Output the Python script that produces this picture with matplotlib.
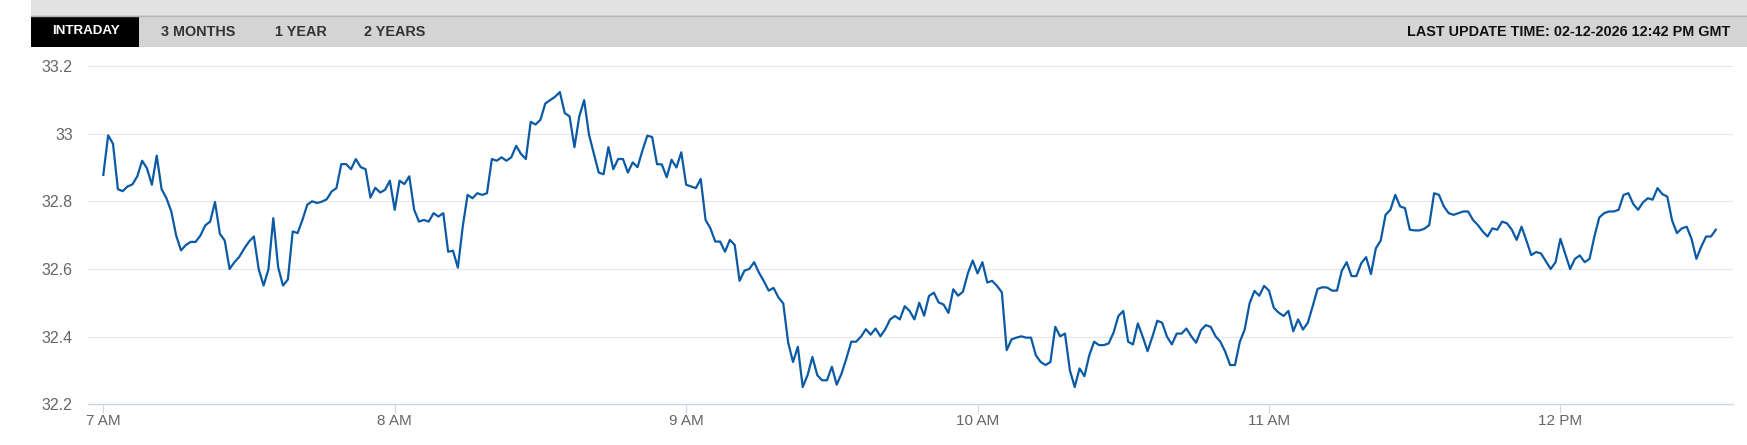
import numpy as np
import matplotlib
matplotlib.use("Agg")
import matplotlib.pyplot as plt
from matplotlib.patches import Rectangle

# per-minute prices from 7:00 onwards
price = [
    32.878, 32.995, 32.970, 32.836, 32.830, 32.844, 32.850, 32.874, 32.920, 32.897,
    32.849, 32.935, 32.836, 32.809, 32.770, 32.699, 32.655, 32.671, 32.680, 32.680,
    32.699, 32.729, 32.740, 32.798, 32.704, 32.684, 32.600, 32.620, 32.636, 32.660,
    32.681, 32.696, 32.599, 32.551, 32.599, 32.750, 32.605, 32.551, 32.569, 32.711,
    32.706, 32.745, 32.790, 32.800, 32.795, 32.799, 32.806, 32.829, 32.839, 32.910,
    32.910, 32.895, 32.925, 32.901, 32.895, 32.811, 32.840, 32.826, 32.834, 32.861,
    32.775, 32.861, 32.851, 32.874, 32.775, 32.740, 32.745, 32.740, 32.765, 32.755,
    32.765, 32.651, 32.654, 32.604, 32.725, 32.819, 32.809, 32.824, 32.819, 32.824,
    32.925, 32.920, 32.930, 32.920, 32.930, 32.964, 32.940, 32.925, 33.035, 33.027,
    33.041, 33.089, 33.099, 33.109, 33.123, 33.061, 33.051, 32.960, 33.051, 33.099,
    32.997, 32.941, 32.885, 32.880, 32.960, 32.895, 32.925, 32.925, 32.885, 32.915,
    32.901, 32.950, 32.994, 32.990, 32.910, 32.909, 32.871, 32.923, 32.900, 32.945,
    32.849, 32.844, 32.839, 32.866, 32.745, 32.720, 32.681, 32.681, 32.651, 32.686,
    32.671, 32.565, 32.595, 32.600, 32.620, 32.589, 32.564, 32.536, 32.544, 32.516,
    32.498, 32.383, 32.325, 32.370, 32.251, 32.286, 32.340, 32.286, 32.271, 32.271,
    32.311, 32.258, 32.291, 32.336, 32.385, 32.385, 32.400, 32.422, 32.406, 32.424,
    32.401, 32.422, 32.451, 32.461, 32.451, 32.490, 32.476, 32.451, 32.500, 32.462,
    32.520, 32.530, 32.501, 32.495, 32.470, 32.540, 32.521, 32.533, 32.587, 32.625,
    32.587, 32.620, 32.560, 32.565, 32.550, 32.531, 32.360, 32.392, 32.397, 32.401,
    32.397, 32.397, 32.345, 32.325, 32.316, 32.325, 32.429, 32.401, 32.409, 32.301,
    32.251, 32.306, 32.283, 32.345, 32.385, 32.375, 32.375, 32.380, 32.412, 32.461,
    32.476, 32.385, 32.377, 32.439, 32.400, 32.357, 32.400, 32.447, 32.441, 32.400,
    32.377, 32.409, 32.409, 32.424, 32.401, 32.382, 32.419, 32.434, 32.429, 32.401,
    32.385, 32.355, 32.316, 32.316, 32.385, 32.421, 32.498, 32.535, 32.521, 32.550,
    32.536, 32.485, 32.471, 32.461, 32.476, 32.416, 32.451, 32.421, 32.441, 32.490,
    32.541, 32.546, 32.545, 32.536, 32.536, 32.595, 32.620, 32.579, 32.579, 32.617,
    32.635, 32.585, 32.661, 32.684, 32.760, 32.775, 32.819, 32.785, 32.780, 32.716,
    32.714, 32.714, 32.719, 32.730, 32.824, 32.819, 32.785, 32.765, 32.760, 32.765,
    32.770, 32.770, 32.745, 32.730, 32.711, 32.696, 32.720, 32.716, 32.740, 32.735,
    32.716, 32.686, 32.725, 32.684, 32.641, 32.650, 32.646, 32.623, 32.600, 32.620,
    32.689, 32.644, 32.600, 32.630, 32.640, 32.620, 32.630, 32.696, 32.752, 32.765,
    32.770, 32.770, 32.775, 32.819, 32.824, 32.792, 32.775, 32.797, 32.809, 32.805,
    32.839, 32.821, 32.814, 32.743, 32.706, 32.720, 32.725, 32.689, 32.630, 32.666,
    32.696, 32.696, 32.716,
]
minutes = np.arange(len(price))

tick_min = [0, 60, 120, 180, 240, 300]
tick_lbl = ["7 AM", "8 AM", "9 AM", "10 AM", "11 AM", "12 PM"]
y_ticks = [32.2, 32.4, 32.6, 32.8, 33.0, 33.2]
y_lbl = ["32.2", "32.4", "32.6", "32.8", "33", "33.2"]

tabs = ["INTRADAY", "3 MONTHS", "1 YEAR", "2 YEARS"]
tab_x = [86, 198, 301, 395]
update_txt = "LAST UPDATE TIME: 02-12-2026 12:42 PM GMT"

W, H = 1747, 445
plt.rcParams['font.family'] = ['Liberation Sans', 'DejaVu Sans']

fig = plt.figure(figsize=(W / 100, H / 100), dpi=100)

def fx(x):
    return x / W

def fy(y):
    return 1 - y / H

# header bar
x0 = 31
fig.add_artist(Rectangle((fx(x0), fy(15)), fx(W - x0), 15 / H, transform=fig.transFigure,
                         facecolor='#e2e2e2', edgecolor='none'))
fig.add_artist(Rectangle((fx(x0), fy(47)), fx(W - x0), 32 / H, transform=fig.transFigure,
                         facecolor='#d4d4d4', edgecolor='none'))
fig.add_artist(plt.Line2D([fx(x0), 1], [fy(15.5), fy(15.5)], transform=fig.transFigure,
                          color='#b4b4b4', lw=1))
fig.add_artist(Rectangle((fx(x0), fy(47)), fx(108), 31 / H, transform=fig.transFigure,
                         facecolor='black', edgecolor='none'))

for i, (t, x) in enumerate(zip(tabs, tab_x)):
    fig.text(fx(x), fy(31.5), t, ha='center', va='center',
             fontsize=9.6 if i == 0 else 10.4, fontweight='bold',
             color='white' if i == 0 else '#333333')
fig.text(fx(1730), fy(31.5), update_txt, ha='right', va='center', fontsize=10.4,
         fontweight='bold', color='#111111')

# chart
ax = fig.add_axes([fx(88), (H - 404.3) / H, (1733 - 88) / W, (404.3 - 66) / H])
ax.plot(minutes, price, color='#0b5aa6', lw=1.6, solid_joinstyle='round')

ax.set_xlim((88 - 103.3) / 4.857, (1733 - 103.3) / 4.857)
ax.set_ylim(32.2, 33.2)
ax.set_yticks(y_ticks)
ax.set_yticklabels(y_lbl)
ax.set_xticks(tick_min)
ax.set_xticklabels(tick_lbl)

for s in ['top', 'right', 'left']:
    ax.spines[s].set_visible(False)
ax.spines['bottom'].set_color('#ccd6eb')
ax.spines['bottom'].set_linewidth(1)
ax.spines['bottom'].set_zorder(3)

ax.grid(axis='y', color='#e6e6e6', lw=0.8)
ax.set_axisbelow(True)
ax.tick_params(axis='y', length=0, pad=11, labelsize=11.5, labelcolor='#666666')
ax.tick_params(axis='x', length=6.5, width=0.8, color='#ccd6eb', pad=0.5,
               labelsize=11, labelcolor='#666666')

fig.savefig('out.png', dpi=100)
